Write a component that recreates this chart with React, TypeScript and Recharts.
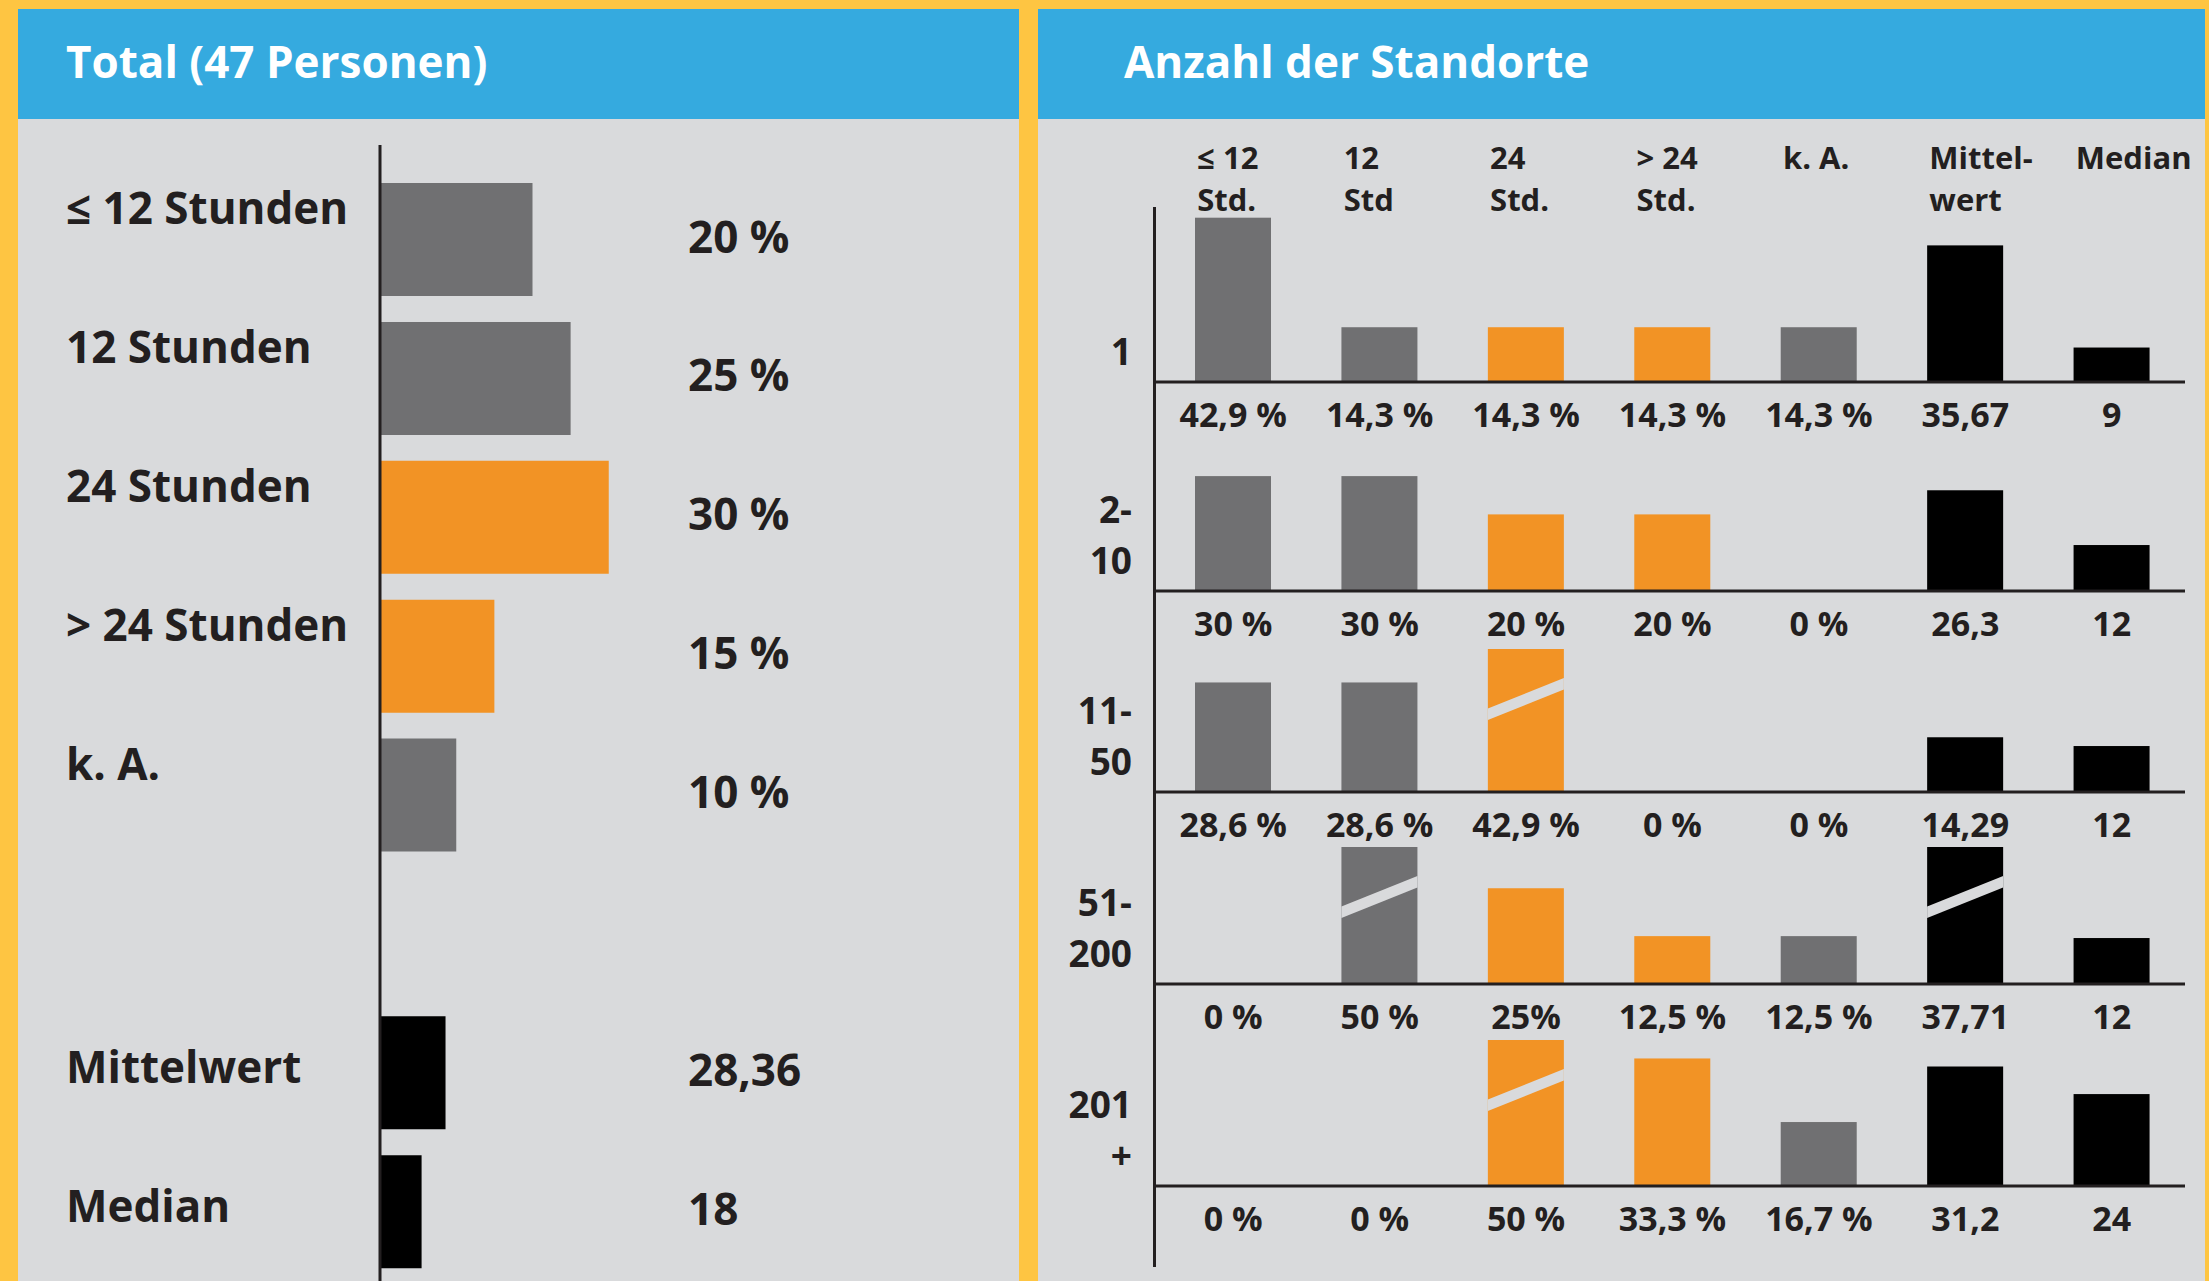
import React from 'react';
import { BarChart, Bar, XAxis, YAxis, Cell, LabelList } from 'recharts';

// --- left panel: Total (47 Personen)
const totalNames = ['≤ 12 Stunden', '12 Stunden', '24 Stunden', '> 24 Stunden', 'k. A.', '', 'Mittelwert', 'Median'];
const totalPercent = [20, 25, 30, 15, 10, null, null, null];
const totalStats = [null, null, null, null, null, null, 28.36, 18];
const statNames = ['Mittelwert', 'Median'];

// --- right panel: Anzahl der Standorte
const columnHeaders = [['≤ 12', 'Std.'], ['12', 'Std'], ['24', 'Std.'], ['> 24', 'Std.'], ['k. A.'], ['Mittel-', 'wert'], ['Median']];
const sizeGroups = [['1'], ['2-', '10'], ['11-', '50'], ['51-', '200'], ['201', '+']];
const group1 = [42.9, 14.3, 14.3, 14.3, 14.3, 35.67, 9];
const group2 = [30, 30, 20, 20, 0, 26.3, 12];
const group3 = [28.6, 28.6, 42.9, 0, 0, 14.29, 12];
const group4 = [0, 50, 25, 12.5, 12.5, 37.71, 12];
const group5 = [0, 0, 50, 33.3, 16.7, 31.2, 24];
const groupValues = [group1, group2, group3, group4, group5];
const groupLabels = [
  ['42,9 %', '14,3 %', '14,3 %', '14,3 %', '14,3 %', '35,67', '9'],
  ['30 %', '30 %', '20 %', '20 %', '0 %', '26,3', '12'],
  ['28,6 %', '28,6 %', '42,9 %', '0 %', '0 %', '14,29', '12'],
  ['0 %', '50 %', '25%', '12,5 %', '12,5 %', '37,71', '12'],
  ['0 %', '0 %', '50 %', '33,3 %', '16,7 %', '31,2', '24'],
];

const GRAY = '#707072';
const ORANGE = '#F29325';
const BLACK = '#000000';
const INK = '#231F20';
const PANEL = '#D9DADC';
const BLUE = '#35AADF';
const YELLOW = '#FEC542';
const FONT = "'Open Sans', 'Noto Sans', 'DejaVu Sans', sans-serif";

const totalColors = [GRAY, GRAY, ORANGE, ORANGE, GRAY, GRAY, BLACK, BLACK];
const columnColors = [GRAY, GRAY, ORANGE, ORANGE, GRAY, BLACK, BLACK];

// layout of the five row charts (page y of plot top and baseline)
const rowLayout = [
  { top: 207, base: 382 },
  { top: 470, base: 591 },
  { top: 649, base: 792 },
  { top: 847, base: 984 },
  { top: 1040, base: 1186 },
];
const PX_PER_UNIT = 3.83;
const HEAD_H = 88;
const LABEL_H = 56;

const fmtNum = (v: number) => String(v).replace('.', ',');

const TotalTick = (props: any) => {
  const { y, payload } = props;
  const name = payload?.value;
  if (!name) return <g />;
  const isStat = statNames.includes(name);
  return (
    <text x={48} y={y + (isStat ? 10 : -15)} fill={INK} fontSize={44} fontWeight={700} fontFamily={FONT} textAnchor="start">
      {name}
    </text>
  );
};

const totalLabel = (suffix: string) => (props: any) => {
  const vb = props.viewBox ?? props;
  if (props.value == null) return null;
  return (
    <text x={670} y={vb.y + vb.height / 2 + 13} fill={INK} fontSize={44} fontWeight={700} fontFamily={FONT}>
      {fmtNum(props.value) + suffix}
    </text>
  );
};

const TotalPanel = () => {
  const data = totalNames.map((name, i) => ({ name, pct: totalPercent[i], stat: totalStats[i] }));
  return (
    <BarChart
      layout="vertical"
      width={1001}
      height={1162}
      data={data}
      margin={{ top: 26, right: 29, bottom: 0, left: 0 }}
      barSize={113}
      barGap={-113}
    >
      <XAxis xAxisId="pct" type="number" domain={[0, 80]} hide />
      <XAxis xAxisId="stat" type="number" domain={[0, 264]} hide />
      <YAxis
        type="category"
        dataKey="name"
        width={362}
        interval={0}
        axisLine={{ stroke: INK, strokeWidth: 3 }}
        tickLine={false}
        tickSize={0}
        tickMargin={0}
        padding={{ top: 25, bottom: 0 }}
        tick={TotalTick}
      />
      <Bar xAxisId="pct" dataKey="pct" isAnimationActive={false}>
        {data.map((d, i) => <Cell key={i} fill={totalColors[i]} />)}
        <LabelList dataKey="pct" content={totalLabel(' %')} />
      </Bar>
      <Bar xAxisId="stat" dataKey="stat" isAnimationActive={false}>
        {data.map((d, i) => <Cell key={i} fill={totalColors[i]} />)}
        <LabelList dataKey="stat" content={totalLabel('')} />
      </Bar>
    </BarChart>
  );
};

// bar that gets a white break when it runs past the top of its row
const renderBar = (props: any, plotTop: number) => {
  const { x, y, width, height, fill } = props;
  if (!height || height <= 0) return <g />;
  const bottom = y + height;
  if (y > plotTop + 0.5) return <rect x={x} y={y} width={width} height={height} fill={fill} />;
  const mid = plotTop + 50;
  const rise = width * 0.4;
  const half = 5.8;
  const pts = [
    [x, mid + rise / 2 - half],
    [x + width, mid - rise / 2 - half],
    [x + width, mid - rise / 2 + half],
    [x, mid + rise / 2 + half],
  ].map((p) => p.join(',')).join(' ');
  return (
    <g>
      <rect x={x} y={plotTop} width={width} height={bottom - plotTop} fill={fill} />
      <polygon points={pts} fill={PANEL} />
    </g>
  );
};

const textStyle = { fill: INK, fontWeight: 700, fontFamily: FONT };

const SizeRow = ({ index }: { index: number }) => {
  const values = groupValues[index];
  const labels = groupLabels[index];
  const data = columnHeaders.map((h, i) => ({ col: h.join(' '), value: values[i] }));
  const { top, base } = rowLayout[index];
  const plotH = base - top;
  const headH = index === 0 ? HEAD_H : 0;
  const lines = sizeGroups[index];

  const valueTick = (p: any) => {
    const i = p.index ?? p.payload?.index;
    return (
      <text x={p.x} y={p.y + 45} textAnchor="middle" fontSize={34} {...textStyle}>
        {labels[i]}
      </text>
    );
  };
  const headTick = (p: any) => {
    const i = p.index ?? p.payload?.index;
    const hl = columnHeaders[i];
    return (
      <g>
        {hl.map((t, k) => (
          <text key={k} x={p.x - 36} y={p.y - 38 + k * 42} textAnchor="start" fontSize={31} {...textStyle}>
            {t}
          </text>
        ))}
      </g>
    );
  };
  const rowTick = (p: any) => (
    <g>
      {lines.map((t, k) => (
        <text key={k} x={p.x - 22} y={p.y - 17 - (lines.length - 1 - k) * 51} textAnchor="end" fontSize={37} {...textStyle}>
          {t}
        </text>
      ))}
    </g>
  );

  return (
    <div style={{ position: 'absolute', left: 1038, top: top - headH }}>
      <BarChart
        width={1167}
        height={headH + plotH + LABEL_H}
        data={data}
        margin={{ top: 0, right: 20, bottom: 0, left: 0 }}
        barSize={76}
      >
        {index === 0 && (
          <XAxis
            xAxisId="head"
            orientation="top"
            dataKey="col"
            height={HEAD_H}
            interval={0}
            axisLine={false}
            tickLine={false}
            tickSize={0}
            tickMargin={0}
            padding={{ left: 6, right: 0 }}
            tick={headTick}
          />
        )}
        <XAxis
          dataKey="col"
          height={LABEL_H}
          interval={0}
          axisLine={{ stroke: INK, strokeWidth: 3 }}
          tickLine={false}
          tickSize={0}
          tickMargin={0}
          padding={{ left: 6, right: 0 }}
          tick={valueTick}
        />
        <YAxis
          type="number"
          domain={[0, plotH / PX_PER_UNIT]}
          allowDataOverflow
          width={116}
          ticks={[0]}
          interval={0}
          axisLine={false}
          tickLine={false}
          tickSize={0}
          tickMargin={0}
          tick={rowTick}
        />
        <Bar dataKey="value" isAnimationActive={false} shape={(p: any) => renderBar(p, headH)}>
          {data.map((d, i) => <Cell key={i} fill={columnColors[i]} />)}
        </Bar>
      </BarChart>
    </div>
  );
};

const headerStyle: React.CSSProperties = {
  position: 'absolute',
  top: 9,
  height: 110,
  background: BLUE,
};
const titleStyle: React.CSSProperties = {
  position: 'absolute',
  top: 30,
  color: '#ffffff',
  fontFamily: FONT,
  fontWeight: 700,
  fontSize: 44,
  lineHeight: '44px',
  whiteSpace: 'nowrap',
};

export default function App() {
  return (
    <div style={{ position: 'absolute', left: 0, top: 0, width: 2209, height: 1281, background: YELLOW, overflow: 'hidden' }}>
      <div style={{ position: 'absolute', left: 18, top: 9, width: 1001, height: 1272, background: PANEL }} />
      <div style={{ position: 'absolute', left: 1038, top: 9, width: 1167, height: 1272, background: PANEL }} />
      <div style={{ ...headerStyle, left: 18, width: 1001 }}>
        <div style={{ ...titleStyle, left: 48 }}>Total (47 Personen)</div>
      </div>
      <div style={{ ...headerStyle, left: 1038, width: 1167 }}>
        <div style={{ ...titleStyle, left: 86 }}>Anzahl der Standorte</div>
      </div>
      <div style={{ position: 'absolute', left: 18, top: 119 }}>
        <TotalPanel />
      </div>
      <div style={{ position: 'absolute', left: 1153, top: 207, width: 3, height: 1060, background: INK }} />
      {rowLayout.map((r, i) => (
        <SizeRow key={i} index={i} />
      ))}
    </div>
  );
}
